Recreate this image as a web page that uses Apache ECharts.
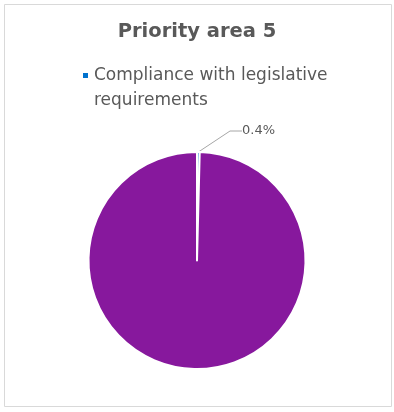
<!DOCTYPE html>
<html>
<head>
<meta charset="utf-8">
<script src="https://cdn.jsdelivr.net/npm/echarts@6/dist/echarts.min.js"></script>
<style>
html,body{margin:0;padding:0;background:#fff;}
#chart{width:394px;height:412px;}
</style>
</head>
<body>
<div id="chart"></div>
<script>
const title = 'Priority area 5';
const categories = ['Compliance with legislative requirements', 'Other'];
const values = [0.4, 99.6];
const colors = ['#0072CE', '#87189D'];
const legendItems = ['Compliance with legislative requirements'];

const chart = echarts.init(document.getElementById('chart'));
const font = '"DejaVu Sans", sans-serif';
chart.setOption({
  animation: false,
  graphic: [{
    type: 'rect',
    shape: {x: 4.5, y: 4.5, width: 387, height: 402},
    style: {fill: 'none', stroke: '#d9d9d9', lineWidth: 1},
    silent: true
  }],
  title: {
    text: title,
    left: 'center',
    top: 17,
    textStyle: {fontFamily: font, fontSize: 19.5, fontWeight: 'bold', color: '#595959'}
  },
  legend: {
    data: legendItems,
    left: 76,
    top: 33,
    icon: 'rect',
    itemWidth: 7,
    itemHeight: 7,
    itemGap: 8,
    formatter: function (n) { return '\n' + n.replace('legislative ', 'legislative\n'); },
    textStyle: {fontFamily: font, fontSize: 17, color: '#595959', lineHeight: 25}
  },
  series: [{
    type: 'pie',
    center: [197, 260.5],
    radius: 108.5,
    startAngle: 90,
    clockwise: true,
    data: categories.map((c, i) => ({
      name: c,
      value: values[i],
      itemStyle: {color: colors[i]},
      label: {show: i === 0},
      labelLine: {show: i === 0}
    })),
    itemStyle: {borderColor: '#fff', borderWidth: 2},
    label: {
      formatter: function (p) { return p.value.toFixed(1) + '%'; },
      fontFamily: font, fontSize: 13, color: '#595959'
    },
    labelLine: {length: 12, length2: 12, lineStyle: {color: '#a6a6a6', width: 1}},
    labelLayout: function (p) {
      if (p.dataIndex !== 0) return {};
      return {x: 242, y: 131, align: 'left', verticalAlign: 'middle'};
    }
  }]
});
</script>
</body>
</html>
